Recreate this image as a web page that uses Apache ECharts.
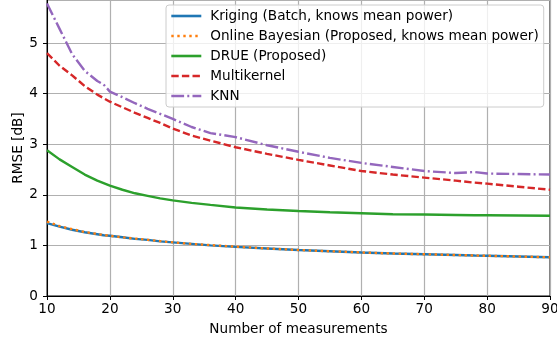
<!DOCTYPE html>
<html>
<head>
<meta charset="utf-8">
<script src="https://cdn.jsdelivr.net/npm/echarts@6/dist/echarts.min.js"></script>
<style>
html,body{margin:0;padding:0;background:#fff;}
#c{width:557px;height:347px;}
</style>
</head>
<body>
<div id="c"></div>
<script>
const xs = [10,12,14,16,18,19,20,22,24,26,28,30,33,36,40,45,50,55,60,65,70,75,78,80,85,90];
const kriging = [1.44,1.37,1.31,1.26,1.22,1.20,1.19,1.16,1.13,1.11,1.08,1.06,1.03,1.00,0.97,0.94,0.91,0.885,0.86,0.84,0.825,0.81,0.80,0.795,0.78,0.765];
const online = [1.47,1.38,1.32,1.265,1.225,1.205,1.19,1.16,1.135,1.11,1.085,1.06,1.03,1.005,0.975,0.94,0.91,0.885,0.86,0.84,0.825,0.81,0.80,0.795,0.78,0.765];
const drue = [2.88,2.70,2.55,2.40,2.28,2.23,2.18,2.10,2.03,1.98,1.93,1.89,1.84,1.80,1.75,1.71,1.68,1.655,1.635,1.615,1.61,1.60,1.595,1.595,1.59,1.585];
const multikernel = [4.80,4.55,4.36,4.15,3.98,3.91,3.84,3.73,3.62,3.52,3.42,3.31,3.17,3.07,2.94,2.81,2.69,2.58,2.47,2.40,2.34,2.28,2.24,2.22,2.16,2.10];
const knn = [5.78,5.28,4.78,4.45,4.25,4.18,4.04,3.93,3.81,3.70,3.60,3.50,3.34,3.22,3.14,2.98,2.85,2.73,2.63,2.55,2.47,2.43,2.45,2.42,2.41,2.40];
const names = ['Kriging (Batch, knows mean power)','Online Bayesian (Proposed, knows mean power)','DRUE (Proposed)','Multikernel','KNN'];
const xTicks = [10,20,30,40,50,60,70,80,90];
const yTicks = [0,1,2,3,4,5];

const font = 'DejaVu Sans';
const fs = 13.6;
function pairs(ys){ return xs.map((x,i)=>[x,ys[i]]); }
function mk(name, ys, color, type, z, w){
  return {name, type:'line', data:pairs(ys), symbol:'none', showSymbol:false, z:z,
    lineStyle:{color, width:w||2.4, type, cap:'butt'}, itemStyle:{color}};
}
const chart = echarts.init(document.getElementById('c'), null, {renderer:'canvas'});
chart.setOption({
  animation:false,
  backgroundColor:'#fff',
  textStyle:{fontFamily:font},
  grid:{left:47, right:7, top:0, bottom:51, containLabel:false, outerBoundsMode:'none',
    show:true, borderColor:'#000', borderWidth:1, backgroundColor:'transparent'},
  xAxis:{type:'value', min:10, max:90, interval:10,
    name:'Number of measurements', nameLocation:'middle', nameGap:26, nameMoveOverlap:false,
    nameTextStyle:{color:'#000', fontSize:fs, fontFamily:font},
    axisLine:{lineStyle:{color:'#000', width:1}},
    axisTick:{show:true, inside:false, length:4, lineStyle:{color:'#000'}},
    axisLabel:{color:'#000', fontSize:fs, fontFamily:font, margin:6,
      formatter:v=>xTicks.includes(v)?String(v):''},
    splitLine:{show:true, lineStyle:{color:'#b0b0b0', width:1.2}}},
  yAxis:{type:'value', min:0, max:5.85, interval:1,
    name:'RMSE [dB]', nameLocation:'middle', nameGap:22, nameMoveOverlap:false,
    nameTextStyle:{color:'#000', fontSize:fs, fontFamily:font},
    axisLine:{show:true, lineStyle:{color:'#000', width:1}},
    axisTick:{show:true, inside:false, length:4, lineStyle:{color:'#000'}},
    axisLabel:{color:'#000', fontSize:fs, fontFamily:font, margin:9, showMaxLabel:false,
      formatter:v=>yTicks.includes(v)?String(v):''},
    splitLine:{show:true, lineStyle:{color:'#b0b0b0', width:1.2}}},
  legend:{orient:'vertical', left:166, top:5, data:names,
    itemWidth:30, itemHeight:14, itemGap:6,
    itemStyle:{color:'rgba(0,0,0,0)', borderWidth:0, opacity:0},
    lineStyle:{width:2.6},
    backgroundColor:'rgba(255,255,255,0.8)', borderColor:'#cccccc', borderWidth:1, borderRadius:3,
    padding:[4,5,4,4],
    textStyle:{color:'#000', fontSize:fs, fontFamily:font, padding:[0,0,0,4]}},
  series:[
    mk(names[0], kriging, '#1f77b4', 'solid', 2),
    mk(names[1], online, '#ff7f0e', [2.4,3.6], 3, 2.4),
    mk(names[2], drue, '#2ca02c', 'solid', 2),
    mk(names[3], multikernel, '#d62728', [7.4,3.2], 2),
    mk(names[4], knn, '#9467bd', [12.8,3.2,2,3.2], 2)
  ]
});
</script>
</body>
</html>
